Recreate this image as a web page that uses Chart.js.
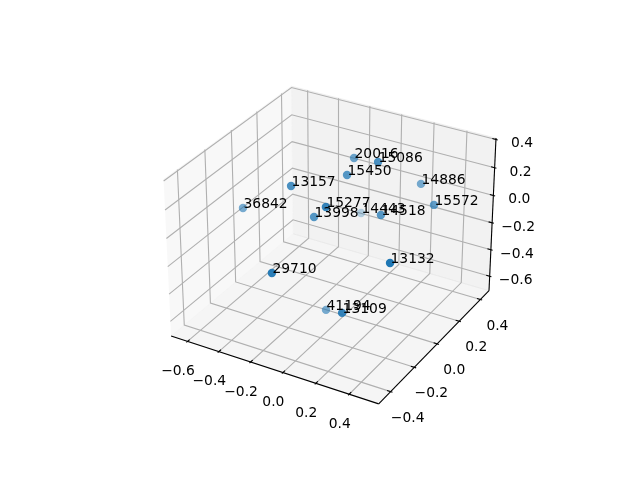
<!DOCTYPE html>
<html>
<head>
<meta charset="utf-8">
<title>3D scatter</title>
<style>body{margin:0;background:#fff}canvas{display:block}</style>
<script src="https://cdn.jsdelivr.net/npm/chart.js@4"></script>
</head>
<body>
<canvas id="grafico" width="640" height="480"></canvas>
<script>
// Values
const pointLabels = ["20016", "15086", "15450", "14886", "15572", "14443", "14518", "15277", "13998", "13157", "36842", "29710", "41194", "13109", "13132"];
const xs = [-0.075, 0.140, -0.018, 0.241, 0.391, -0.196, 0.191, 0.029, -0.114, -0.225, -0.562, -0.093, -0.034, 0.239, 0.452];
const ys = [0.178, 0.083, 0.043, 0.316, 0.213, 0.408, 0.041, -0.190, -0.098, -0.135, -0.097, -0.454, -0.108, -0.340, -0.248];
const zs = [0.282, 0.386, 0.274, 0.098, 0.070, -0.324, 0.060, 0.233, 0.049, 0.258, -0.034, -0.066, -0.592, -0.322, 0.031];
const xTicks = [-0.6, -0.4, -0.2, 0, 0.2, 0.4];
const yTicks = [-0.4, -0.2, 0, 0.2, 0.4];
const zTicks = [-0.6, -0.4, -0.2, 0, 0.2, 0.4];
const [x0, x1] = [-0.706, 0.574];
const [y0, y1] = [-0.498, 0.483];
const [z0, z1] = [-0.71, 0.41];

// Same camera as a default mplot3d view: elev 30, azim -60, dist 10
const box = [1.1905, 1.1905, 0.8929];
const camU = [0.8660254, 0.5, 0];
const camV = [-0.25, 0.4330127, 0.8660254];
const camW = [0.4330127, -0.75, 0.5];
const dot = (a, b) => a[0] * b[0] + a[1] * b[1] + a[2] * b[2];

function toBox(x, y, z) {
  return [
    ((x - x0) / (x1 - x0) - 0.5) * box[0],
    ((y - y0) / (y1 - y0) - 0.5) * box[1],
    ((z - z0) / (z1 - z0) - 0.5) * box[2],
  ];
}

function depth(x, y, z) {
  return dot(camW, toBox(x, y, z));
}

// 3D value -> position on the flat scatter scales
function proj(x, y, z) {
  const r = toBox(x, y, z);
  const k = 10 - dot(camW, r);
  return {
    x: 143.2 + (dot(camU, r) / k + 0.095) * 1997.8,
    y: 427.2 - (dot(camV, r) / k + 0.095) * 1997.8,
  };
}

const datasets = [];
const addLine = (data, color, order) => datasets.push({ data, showLine: true, borderColor: color, borderWidth: 1.1, pointRadius: 0, tension: 0, order });
const addPane = (data, color) => datasets.push({ data, showLine: true, fill: "shape", backgroundColor: color, borderColor: color, borderWidth: 1, pointRadius: 0, tension: 0, order: 5 });

addPane([proj(x0, y0, z0), proj(x0, y1, z0), proj(x0, y1, z1), proj(x0, y0, z1)], "rgba(242,242,242,0.5)");
addPane([proj(x0, y1, z0), proj(x1, y1, z0), proj(x1, y1, z1), proj(x0, y1, z1)], "rgba(230,230,230,0.5)");
addPane([proj(x0, y0, z0), proj(x1, y0, z0), proj(x1, y1, z0), proj(x0, y1, z0)], "rgba(236,236,236,0.5)");

// Grid
xTicks.forEach((t) => addLine([proj(t, y0, z0), proj(t, y1, z0), proj(t, y1, z1)], "#b0b0b0", 4));
yTicks.forEach((t) => addLine([proj(x1, t, z0), proj(x0, t, z0), proj(x0, t, z1)], "#b0b0b0", 4));
zTicks.forEach((t) => addLine([proj(x0, y0, t), proj(x0, y1, t), proj(x1, y1, t)], "#b0b0b0", 4));

// Axis lines and tick marks
const dx = (x1 - x0) / 12;
const dy = (y1 - y0) / 12;
addLine([proj(x0, y0, z0), proj(x1, y0, z0)], "#000", 3);
addLine([proj(x1, y0, z0), proj(x1, y1, z0)], "#000", 3);
addLine([proj(x1, y1, z0), proj(x1, y1, z1)], "#000", 3);
xTicks.forEach((t) => addLine([proj(t, y0 - 0.1 * dy, z0), proj(t, y0 + 0.2 * dy, z0)], "#000", 3));
yTicks.forEach((t) => addLine([proj(x1 + 0.1 * dx, t, z0), proj(x1 - 0.2 * dx, t, z0)], "#000", 3));
zTicks.forEach((t) => addLine([proj(x1 + 0.1 * dx, y1, t), proj(x1 - 0.2 * dx, y1, t)], "#000", 3));

// Points fade with distance from the camera
const depths = xs.map((x, i) => depth(x, ys[i], zs[i]));
const dMin = Math.min(...depths);
const dMax = Math.max(...depths);
const colors = depths.map((d) => `rgba(31,119,180,${1 - 0.7 * (dMax - d) / (dMax - dMin)})`);
datasets.push({
  data: xs.map((x, i) => proj(x, ys[i], zs[i])),
  backgroundColor: colors,
  pointRadius: 4.2,
  pointBorderWidth: 0,
  showLine: false,
  order: 1,
});

const tickText = (t) => (t < 0 ? "\u2212" : "") + Math.abs(t).toFixed(1);

const textPlugin = {
  id: "textos",
  afterDraw(chart) {
    const ctx = chart.ctx;
    const put = (text, p, ox, oy, align) => {
      ctx.textAlign = align;
      ctx.fillText(text, chart.scales.x.getPixelForValue(p.x) + ox, chart.scales.y.getPixelForValue(p.y) + oy);
    };
    ctx.font = "13.89px 'DejaVu Sans'";
    ctx.fillStyle = "#000";
    ctx.textBaseline = "alphabetic";
    xTicks.forEach((t) => put(tickText(t), proj(t, y0, z0), -9.5, 33.5, "center"));
    yTicks.forEach((t) => put(tickText(t), proj(x1, t, z0), 17, 30, "center"));
    zTicks.forEach((t) => put(tickText(t), proj(x1, y1, t), 26, 8, "center"));
    pointLabels.forEach((s, i) => put(s, proj(xs[i], ys[i], zs[i]), 0.5, 0, "left"));
  },
};

new Chart(document.getElementById("grafico"), {
  type: "scatter",
  data: { datasets },
  options: {
    responsive: false,
    animation: false,
    layout: { padding: 0, autoPadding: false },
    plugins: { legend: { display: false }, tooltip: { enabled: false } },
    scales: {
      x: { display: false, min: 0, max: 640 },
      y: { display: false, min: 0, max: 480, reverse: true },
    },
  },
  plugins: [textPlugin],
});
</script>
</body>
</html>
